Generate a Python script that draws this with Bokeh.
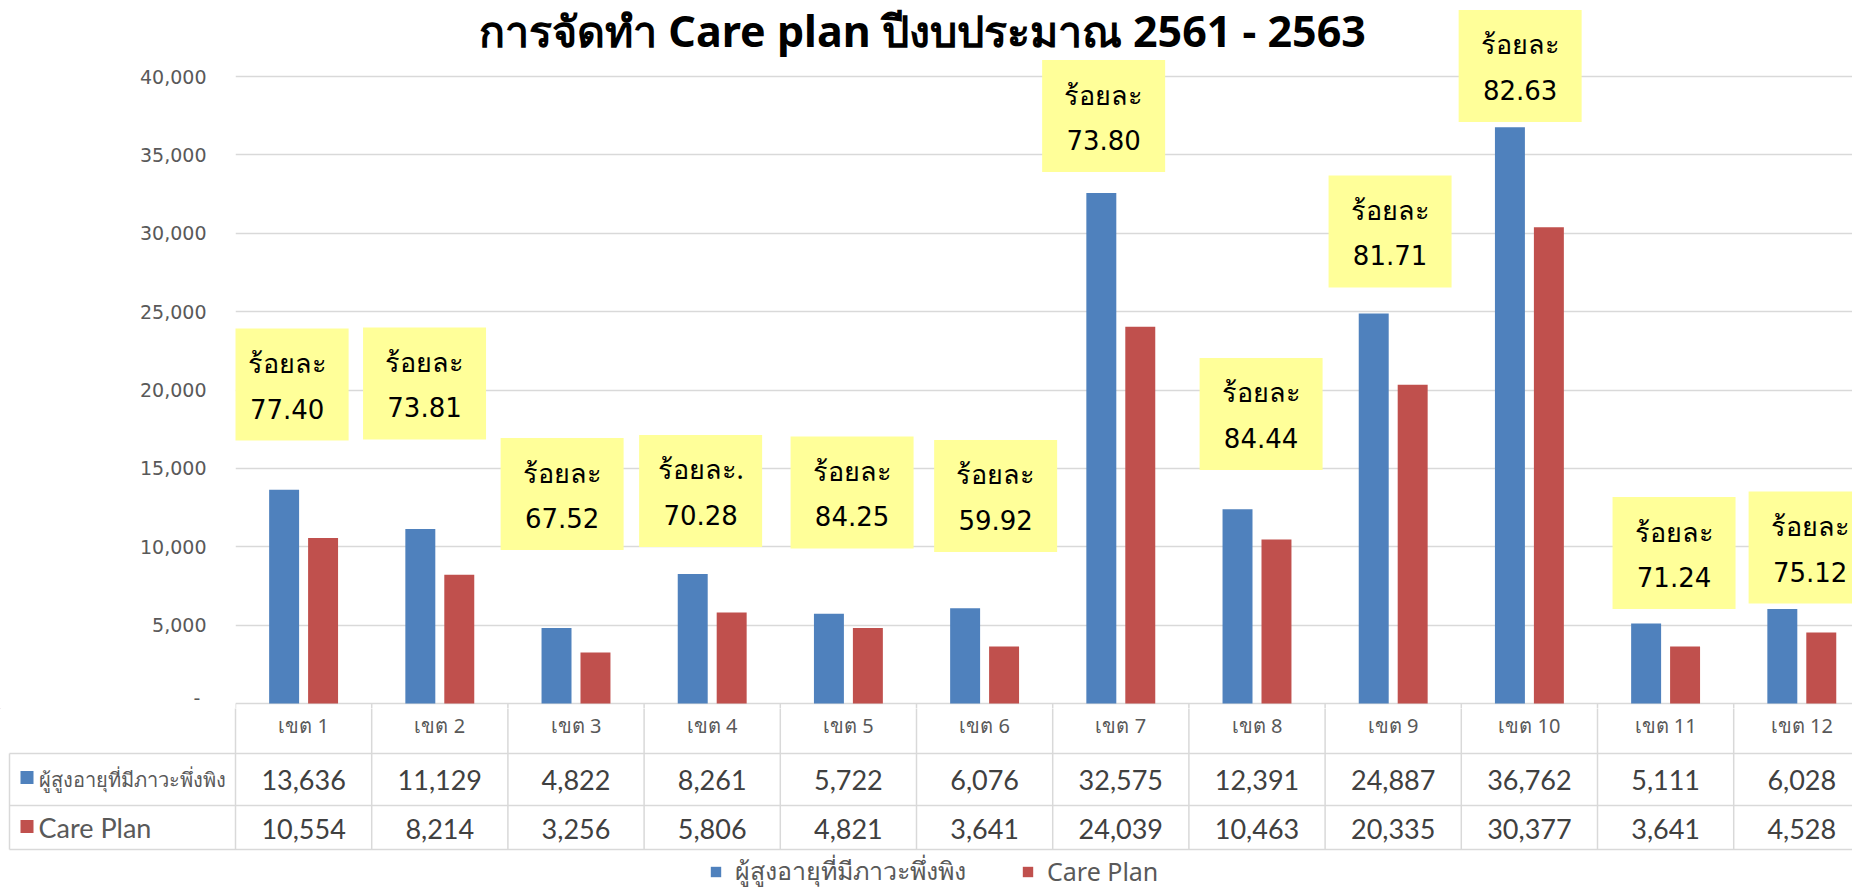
from bokeh.plotting import figure
from bokeh.layouts import column
from bokeh.models import (Range1d, FixedTicker, Label, ColumnDataSource,
                          NumeralTickFormatter)
from bokeh.transform import dodge
from bokeh.core.properties import value
from bokeh.embed import file_html
from bokeh.resources import INLINE

# ---------------- data ----------------
title_text = "การจัดทำ Care plan ปีงบประมาณ 2561 - 2563"
regions = ["เขต 1", "เขต 2", "เขต 3", "เขต 4", "เขต 5", "เขต 6",
           "เขต 7", "เขต 8", "เขต 9", "เขต 10", "เขต 11", "เขต 12"]
series_names = ["ผู้สูงอายุที่มีภาวะพึ่งพิง", "Care Plan"]
dependent = [13636, 11129, 4822, 8261, 5722, 6076, 32575, 12391, 24887, 36762, 5111, 6028]
careplan = [10554, 8214, 3256, 5806, 4821, 3641, 24039, 10463, 20335, 30377, 3641, 4528]
pct_prefix = ["ร้อยละ", "ร้อยละ", "ร้อยละ", "ร้อยละ.", "ร้อยละ", "ร้อยละ",
              "ร้อยละ", "ร้อยละ", "ร้อยละ", "ร้อยละ", "ร้อยละ", "ร้อยละ"]
pct_values = ["77.40", "73.81", "67.52", "70.28", "84.25", "59.92",
              "73.80", "84.44", "81.71", "82.63", "71.24", "75.12"]
y_ticks = [0, 5000, 10000, 15000, 20000, 25000, 30000, 35000, 40000]

# ---------------- callout placement (layout) ----------------
box_dx = [-0.121, -0.112, -0.102, -0.085, 0.027, 0.081,
          -0.126, 0.030, -0.023, -0.068, 0.062, 0.061]
box_y = [20350, 20415, 13365, 13557, 13461, 13238,
         37480, 18469, 30112, 40670, 9601, 9952]

BLUE = "#4F81BD"
RED = "#C0504D"
GRID = "#D9D9D9"
GRAY = "#595959"
THAI = value("Noto Sans")

W = 1852
TOP_H = 708
BOT_H = 183
LEFT = 235
CAT_PX = 136.2
x_end = -0.5 + (W - LEFT) / CAT_PX
PX_PER_UNIT = 0.015675
ZERO_PX = 703

top = figure(width=W, height=TOP_H, output_backend="svg", toolbar_location=None,
             x_range=Range1d(-0.5, x_end),
             y_range=Range1d(-(TOP_H - ZERO_PX) / PX_PER_UNIT, ZERO_PX / PX_PER_UNIT),
             x_axis_location=None,
             min_border_left=LEFT, min_border_right=0,
             min_border_top=0, min_border_bottom=0)
top.frame_align = False
top.outline_line_color = None
top.xgrid.visible = False

ticker = FixedTicker(ticks=y_ticks)
top.yaxis.ticker = ticker
top.ygrid.ticker = ticker
top.ygrid.grid_line_color = GRID
top.ygrid.grid_line_width = 1.5
top.yaxis.formatter = NumeralTickFormatter(format="0,0")
top.yaxis.major_label_overrides = {0: "- "}
top.yaxis.axis_line_color = None
top.yaxis.major_tick_line_color = None
top.yaxis.minor_tick_line_color = None
top.yaxis.major_tick_out = 0
top.yaxis.major_tick_in = 0
top.yaxis.major_label_standoff = 29
top.yaxis.major_label_text_font = "DejaVu Sans"
top.yaxis.major_label_text_font_size = "19px"
top.yaxis.major_label_text_color = GRAY

idx = list(range(len(regions)))
src = ColumnDataSource(dict(
    x=idx, region=regions, dependent=dependent, careplan=careplan,
    dep_s=[f"{v:,}" for v in dependent], cp_s=[f"{v:,}" for v in careplan],
    bx=[i + d for i, d in zip(idx, box_dx)], by=box_y,
    prefix=pct_prefix, pct=pct_values))

r1 = top.vbar(x=dodge("x", -0.143, range=top.x_range), top="dependent", width=0.22,
              source=src, fill_color=BLUE, line_color=None)
r2 = top.vbar(x=dodge("x", 0.143, range=top.x_range), top="careplan", width=0.22,
              source=src, fill_color=RED, line_color=None)

# callout boxes
top.rect(x="bx", y="by", width=123, height=112, width_units="screen", height_units="screen",
         source=src, fill_color="#FFFF99", line_color=None)
top.text(x="bx", y="by", text="prefix", source=src, y_offset=-22,
         text_align="center", text_baseline="middle", text_font=THAI,
         text_font_size="27px", text_color="black")
top.text(x="bx", y="by", text="pct", source=src, y_offset=24,
         text_align="center", text_baseline="middle", text_font=value("DejaVu Sans"),
         text_font_size="26px", text_color="black")

# table column lines that start at the category axis
col_x = [i - 0.5 for i in range(13)]
top.segment(x0=col_x, y0=[0] * 13, x1=col_x, y1=[top.y_range.start] * 13,
            line_color=GRID, line_width=1.5)

# title
top.add_layout(Label(x=-0.5 + (922 - LEFT) / CAT_PX, y=(ZERO_PX - 30) / PX_PER_UNIT,
                     text=title_text, text_align="center", text_baseline="middle",
                     text_font="Noto Sans", text_font_style="bold",
                     text_font_size="43px", text_color="black"))

# ---------------- data table (bottom figure) ----------------
bx_start = -0.5 - LEFT / CAT_PX
bot = figure(width=W, height=BOT_H, output_backend="svg", toolbar_location=None,
             x_range=Range1d(bx_start, x_end),
             y_range=Range1d(start=TOP_H - ZERO_PX + BOT_H, end=TOP_H - ZERO_PX),
             x_axis_location=None, y_axis_location=None,
             min_border_left=0, min_border_right=0,
             min_border_top=0, min_border_bottom=0)
bot.frame_align = False
bot.outline_line_color = None
bot.grid.visible = False

row_lines = [50, 102, 146]
left_x = bx_start + 9 / CAT_PX
bot.segment(x0=[left_x] * 3, y0=row_lines, x1=[x_end + 1] * 3, y1=row_lines,
            line_color=GRID, line_width=1.5)
bot.segment(x0=col_x, y0=[0] * 13, x1=col_x, y1=[146] * 13,
            line_color=GRID, line_width=1.5)
bot.segment(x0=[left_x], y0=[50], x1=[left_x], y1=[146],
            line_color=GRID, line_width=1.5)

bot.text(x="x", y=22, text="region", source=src,
         text_align="center", text_baseline="middle", text_font=THAI,
         text_font_size="20px", text_color=GRAY)
bot.text(x="x", y=76, text="dep_s", source=src,
         text_align="center", text_baseline="middle", text_font=value("Lato"),
         text_font_size="27px", text_color="#404040")
bot.text(x="x", y=125, text="cp_s", source=src,
         text_align="center", text_baseline="middle", text_font=value("Lato"),
         text_font_size="27px", text_color="#404040")

sq_x = bx_start + 26.5 / CAT_PX
bot.rect(x=[sq_x, sq_x], y=[74, 123], width=13, height=13,
         width_units="screen", height_units="screen",
         fill_color=[BLUE, RED], line_color=None)
txt_x = bx_start + 38 / CAT_PX
bot.text(x=[txt_x], y=[76], text=[series_names[0]], text_align="left",
         text_baseline="middle", text_font=THAI, text_font_size="20px", text_color=GRAY)
bot.text(x=[txt_x], y=[124], text=[series_names[1]], text_align="left",
         text_baseline="middle", text_font=value("Lato"), text_font_size="27px",
         text_color=GRAY)

# legend (bottom centre)
l1 = bot.vbar(x=[-10], top=[1], width=0.1, fill_color=BLUE, line_color=None,
              legend_label=series_names[0])
l2 = bot.vbar(x=[-10], top=[1], width=0.1, fill_color=RED, line_color=None,
              legend_label=series_names[1])
lg = bot.legend[0]
lg.orientation = "horizontal"
lg.location = (709, 0)
lg.background_fill_alpha = 0
lg.border_line_color = None
lg.glyph_width = 13
lg.glyph_height = 13
lg.label_text_font = "Noto Sans"
lg.label_text_font_size = "25px"
lg.label_text_color = GRAY
lg.spacing = 55
lg.padding = 0
lg.margin = 0
lg.label_standoff = 13

layout = column(top, bot, spacing=0)
open("out.html", "w").write(file_html(layout, INLINE))
